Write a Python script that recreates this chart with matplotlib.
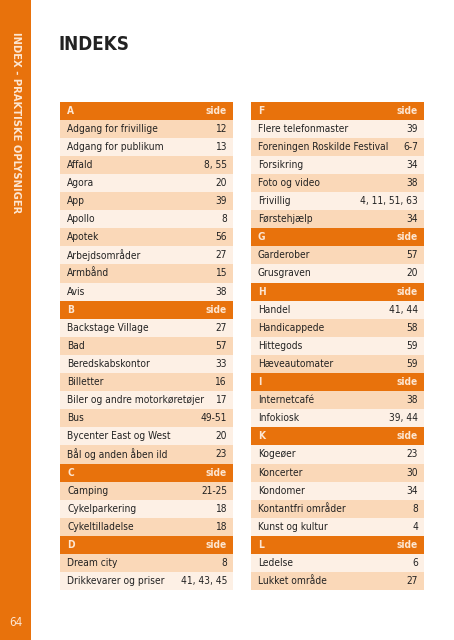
import matplotlib.pyplot as plt

# index content, left column
left_letters = ["A", "B", "C", "D"]
left_names = [
    ["Adgang for frivillige", "Adgang for publikum", "Affald", "Agora", "App",
     "Apollo", "Apotek", "Arbejdsområder", "Armbånd", "Avis"],
    ["Backstage Village", "Bad", "Beredskabskontor", "Billetter",
     "Biler og andre motorkøretøjer", "Bus", "Bycenter East og West",
     "Bål og anden åben ild"],
    ["Camping", "Cykelparkering", "Cykeltilladelse"],
    ["Dream city", "Drikkevarer og priser"],
]
left_pages = [
    ["12", "13", "8, 55", "20", "39", "8", "56", "27", "15", "38"],
    ["27", "57", "33", "16", "17", "49-51", "20", "23"],
    ["21-25", "18", "18"],
    ["8", "41, 43, 45"],
]

# right column
right_letters = ["F", "G", "H", "I", "K", "L"]
right_names = [
    ["Flere telefonmaster", "Foreningen Roskilde Festival", "Forsikring",
     "Foto og video", "Frivillig", "Førstehjælp"],
    ["Garderober", "Grusgraven"],
    ["Handel", "Handicappede", "Hittegods", "Hæveautomater"],
    ["Internetcafé", "Infokiosk"],
    ["Kogeøer", "Koncerter", "Kondomer", "Kontantfri områder", "Kunst og kultur"],
    ["Ledelse", "Lukket område"],
]
right_pages = [
    ["39", "6-7", "34", "38", "4, 11, 51, 63", "34"],
    ["57", "20"],
    ["41, 44", "58", "59", "59"],
    ["38", "39, 44"],
    ["23", "30", "34", "8", "4"],
    ["6", "27"],
]

ORANGE = "#E8720C"
PEACH = "#FAD8B8"
LIGHT = "#FDF0E5"
HEAD_TXT = "#FDE6D2"
FONT = ["DejaVu Sans"]
STRETCH = "condensed"

W, H = 454, 640
fig = plt.figure(figsize=(W / 100, H / 100), dpi=100)
ax = fig.add_axes([0, 0, 1, 1])
ax.set_xlim(0, W)
ax.set_ylim(H, 0)
ax.axis("off")

# sidebar
ax.barh(H / 2, 31, height=H, left=0, color=ORANGE, linewidth=0)
ax.text(15.5, 32, "INDEX - PRAKTISKE OPLYSNIGER", rotation=-90, ha="center", va="top",
        color=HEAD_TXT, fontsize=8, fontweight="bold", family=FONT, fontstretch=STRETCH)
ax.text(15.5, 622, "64", ha="center", va="center", color=HEAD_TXT, fontsize=8.5,
        family=FONT, fontstretch=STRETCH)

ax.text(59, 44, "INDEKS", ha="left", va="center", color="#222222", fontsize=13.5,
        fontweight="bold", family=FONT, fontstretch=STRETCH)

TOP = 101.5
ROW = 18.1
FS = 7.3


def draw_column(x0, x1, letters, names, pages, odd_color, even_color):
    row = 0
    for letter, nm, pg in zip(letters, names, pages):
        y = TOP + row * ROW + ROW / 2
        ax.barh(y, x1 - x0, height=ROW, left=x0, color=ORANGE, linewidth=0)
        ax.text(x0 + 7, y, letter, ha="left", va="center", color=HEAD_TXT,
                fontsize=FS, fontweight="bold", family=FONT, fontstretch=STRETCH)
        ax.text(x1 - 6, y, "side", ha="right", va="center", color=HEAD_TXT,
                fontsize=FS, fontweight="bold", family=FONT, fontstretch=STRETCH)
        row += 1
        for n, p in zip(nm, pg):
            y = TOP + row * ROW + ROW / 2
            c = odd_color if row % 2 == 1 else even_color
            ax.barh(y, x1 - x0, height=ROW, left=x0, color=c, linewidth=0)
            ax.text(x0 + 7, y, n, ha="left", va="center", color="#222222",
                    fontsize=FS, family=FONT, fontstretch=STRETCH)
            ax.text(x1 - 6, y, p, ha="right", va="center", color="#222222",
                    fontsize=FS, family=FONT, fontstretch=STRETCH)
            row += 1


draw_column(60, 233, left_letters, left_names, left_pages, PEACH, LIGHT)
draw_column(251, 424, right_letters, right_names, right_pages, LIGHT, PEACH)

fig.savefig("out.png", dpi=100)
